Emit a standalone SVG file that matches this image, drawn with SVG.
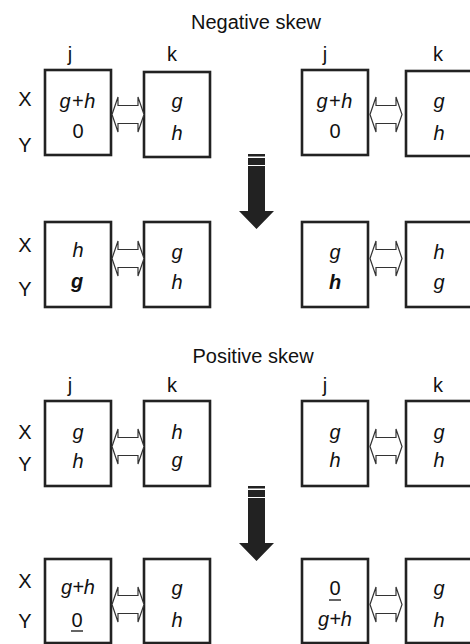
<svg xmlns="http://www.w3.org/2000/svg" width="470" height="644" viewBox="0 0 470 644">
<style>
text{font-family:"Liberation Sans",Arial,sans-serif;fill:#111;text-anchor:middle}
.t{font-size:20px}
.l{font-size:20px}
.v{font-size:20px;font-style:italic}
.s{letter-spacing:1px}
.b{font-weight:bold}
.box{fill:#fff;stroke:#222;stroke-width:2.6}
.dbl{fill:#fff;stroke:#333;stroke-width:1.2;stroke-linejoin:miter}
.big{fill:#222}
.ul{stroke:#111;stroke-width:1.3}
</style>
<defs>
<path id="dbl" class="dbl" d="M0,0 L6,-17.5 L6,-9 L26,-9 L26,-17.5 L32,0 L26,17.5 L26,9 L6,9 L6,17.5 Z"/>
<path id="bigarrow" d="M-8.5,0 H8.5 V2.5 H-8.5 Z M-8.5,4 H8.5 V11 H-8.5 Z M-8.5,12 H8.5 V57 H17.5 L0,75 L-17.5,57 H-8.5 Z" class="big"/>
</defs>

<text class="t" x="256" y="29">Negative skew</text>
<text class="t" x="253" y="363">Positive skew</text>

<g id="labels">
<text class="l" x="70" y="61">j</text>
<text class="l" x="172" y="61">k</text>
<text class="l" x="325" y="61">j</text>
<text class="l" x="438" y="61">k</text>
<text class="l" x="25" y="106">X</text>
<text class="l" x="25" y="152">Y</text>
<text class="l" x="25" y="252">X</text>
<text class="l" x="25" y="296">Y</text>
<text class="l" x="70" y="392">j</text>
<text class="l" x="172" y="392">k</text>
<text class="l" x="325" y="392">j</text>
<text class="l" x="438" y="392">k</text>
<text class="l" x="25" y="439">X</text>
<text class="l" x="25" y="471">Y</text>
<text class="l" x="25" y="588">X</text>
<text class="l" x="25" y="628">Y</text>
</g>

<g id="n1j"><rect class="box" x="45" y="70" width="66" height="85"/><text class="v s" x="78" y="108">g+h</text><text class="l" x="78" y="138">0</text></g>
<g id="n1k"><rect class="box" x="144" y="72" width="66" height="85"/><text class="v" x="177" y="108">g</text><text class="v" x="177" y="140">h</text></g>
<g id="n2j"><rect class="box" x="302" y="70" width="66" height="85"/><text class="v s" x="335" y="108">g+h</text><text class="l" x="335" y="138">0</text></g>
<g id="n2k"><rect class="box" x="406" y="71" width="66" height="85"/><text class="v" x="439" y="108">g</text><text class="v" x="439" y="140">h</text></g>

<g id="n3j"><rect class="box" x="45" y="222" width="66" height="85"/><text class="v" x="78" y="257">h</text><text class="v b" x="77" y="288">g</text></g>
<g id="n3k"><rect class="box" x="144" y="222" width="66" height="85"/><text class="v" x="177" y="259">g</text><text class="v" x="177" y="289">h</text></g>
<g id="n4j"><rect class="box" x="302" y="222" width="66" height="85"/><text class="v" x="335" y="259">g</text><text class="v b" x="335" y="289">h</text></g>
<g id="n4k"><rect class="box" x="406" y="222" width="66" height="85"/><text class="v" x="439" y="259">h</text><text class="v" x="439" y="289">g</text></g>

<g id="n5j"><rect class="box" x="45" y="401" width="66" height="85"/><text class="v" x="78" y="439">g</text><text class="v" x="78" y="468">h</text></g>
<g id="n5k"><rect class="box" x="144" y="401" width="66" height="85"/><text class="v" x="177" y="439">h</text><text class="v" x="177" y="467">g</text></g>
<g id="n6j"><rect class="box" x="302" y="401" width="66" height="85"/><text class="v" x="335" y="439">g</text><text class="v" x="335" y="467">h</text></g>
<g id="n6k"><rect class="box" x="406" y="401" width="66" height="85"/><text class="v" x="439" y="439">g</text><text class="v" x="439" y="467">h</text></g>

<g id="n7j"><rect class="box" x="45" y="559" width="66" height="84"/><text class="v" x="78" y="594">g+h</text><text class="l" x="77" y="627">0</text><line class="ul" x1="71" y1="631" x2="83" y2="631"/></g>
<g id="n7k"><rect class="box" x="144" y="559" width="66" height="84"/><text class="v" x="177" y="595">g</text><text class="v" x="177" y="627">h</text></g>
<g id="n8j"><rect class="box" x="302" y="559" width="66" height="84"/><text class="l" x="335" y="595">0</text><line class="ul" x1="329" y1="600" x2="341" y2="600"/><text class="v" x="335" y="626">g+h</text></g>
<g id="n8k"><rect class="box" x="406" y="559" width="66" height="84"/><text class="v" x="439" y="595">g</text><text class="v" x="439" y="627">h</text></g>

<g id="connectors">
<use href="#dbl" x="112" y="114.5"/>
<use href="#dbl" x="370" y="114.5"/>
<use href="#dbl" x="112" y="258.5"/>
<use href="#dbl" x="370" y="258.5"/>
<use href="#dbl" x="112" y="446.5"/>
<use href="#dbl" x="370" y="446.5"/>
<use href="#dbl" x="112" y="604.5"/>
<use href="#dbl" x="370" y="604.5"/>
<use href="#bigarrow" x="256.5" y="154"/>
<use href="#bigarrow" x="256.5" y="486"/>
</g>
</svg>
